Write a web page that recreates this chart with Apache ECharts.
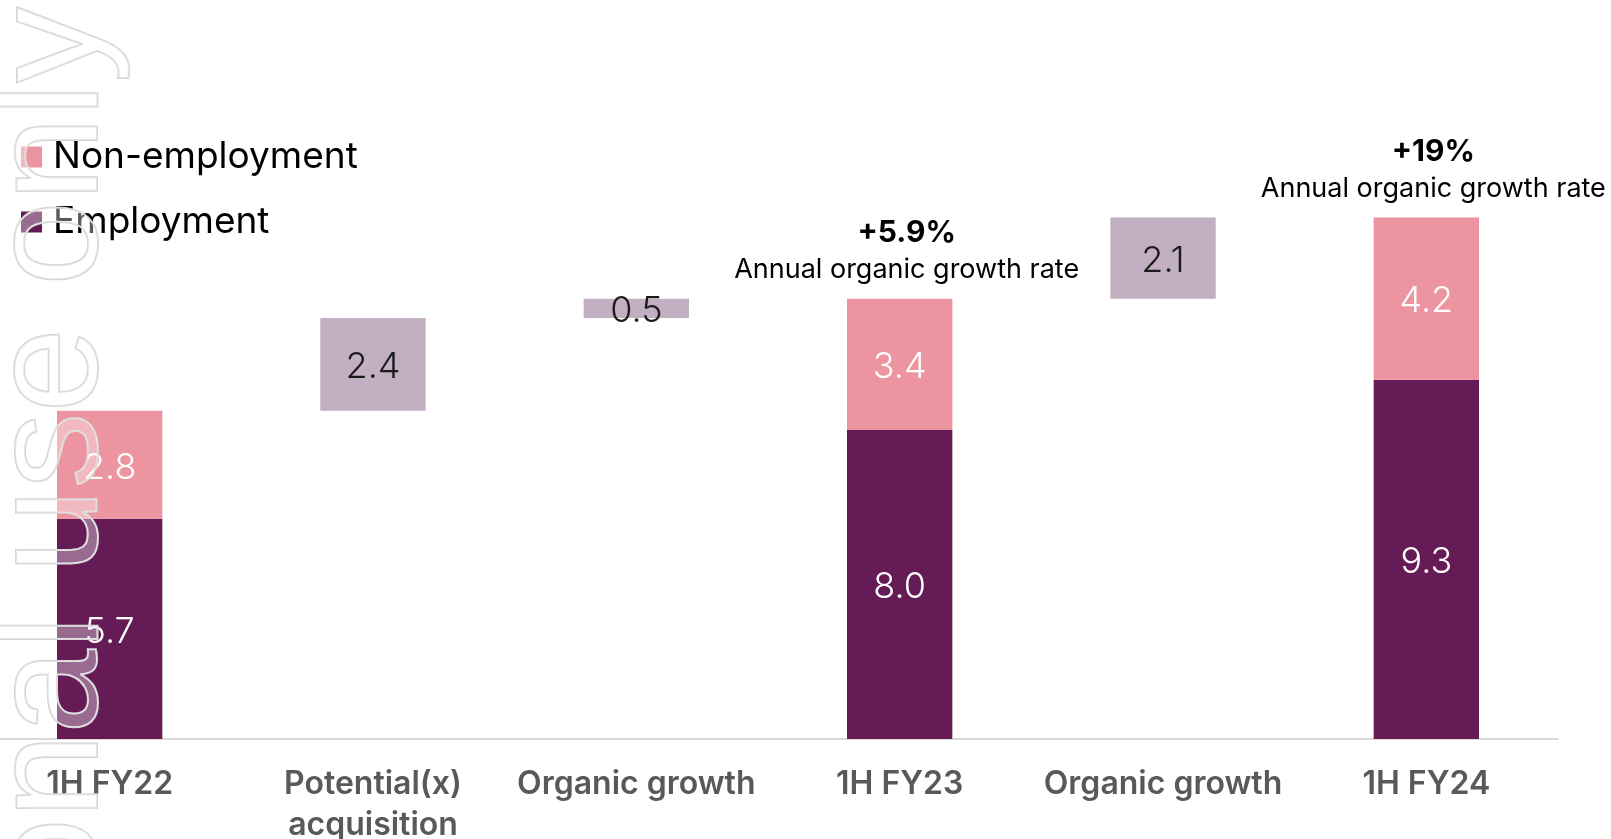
<!DOCTYPE html>
<html>
<head>
<meta charset="utf-8">
<script src="https://cdn.jsdelivr.net/npm/echarts@6/dist/echarts.min.js"></script>
<style>
  html, body { margin: 0; padding: 0; background: #fff; }
  #chart { width: 1611px; height: 839px; }
</style>
</head>
<body>
<div id="chart"></div>
<script>
// categories along the x axis
const categories = ['1H FY22', 'Potential(x)\nacquisition', 'Organic growth', '1H FY23', 'Organic growth', '1H FY24']
// stacked totals ('-' where the column is a bridge step)
const employment = [5.7, '-', '-', 8.0, '-', 9.3]
const nonEmployment = [2.8, '-', '-', 3.4, '-', 4.2]
// bridge steps between the totals
const steps = ['-', 2.4, 0.5, '-', 2.1, '-']
// growth notes above the total columns
const growthRates = ['', '', '', '+5.9%', '', '+19%']

// invisible base under each bridge step = running total so far
const base = []
let running = 0
categories.forEach((c, i) => {
  if (steps[i] === '-') {
    running = (employment[i] || 0) + (nonEmployment[i] || 0)
    base.push('-')
  } else {
    base.push(+running.toFixed(1))
    running += steps[i]
  }
})
const growthAnchor = growthRates.map(g => (g ? 0 : '-'))

const chart = echarts.init(document.getElementById('chart'))

const insideLabel = color => ({
  show: true,
  position: 'inside',
  offset: [0, 3],
  color: color,
  fontFamily: 'Inter',
  fontWeight: 300,
  fontSize: 36,
  formatter: p => Number(p.value).toFixed(1)
})

chart.setOption({
  animation: false,
  backgroundColor: '#fff',
  legend: {
    data: ['Non-employment', 'Employment'],
    orient: 'vertical',
    left: 21,
    top: 137,
    padding: 0,
    icon: 'rect',
    itemWidth: 21,
    itemHeight: 21,
    itemGap: 25,
    textStyle: { fontFamily: 'Inter', fontSize: 37, color: '#000', lineHeight: 40, padding: [0, 0, 0, 6] }
  },
  grid: { left: -22, right: 53, top: 63, bottom: 100, outerBoundsMode: 'none' },
  xAxis: {
    type: 'category',
    data: categories,
    axisLine: { lineStyle: { color: '#d9d9d9', width: 2 } },
    axisTick: { show: false },
    axisLabel: {
      interval: 0,
      margin: 25,
      fontFamily: 'Inter',
      fontWeight: 600,
      fontSize: 32,
      lineHeight: 41,
      color: '#595959'
    }
  },
  yAxis: { type: 'value', min: 0, max: 17.5, show: false },
  series: [
    {
      name: 'Employment', type: 'bar', stack: 'total', barWidth: '40%',
      data: employment,
      itemStyle: { color: '#651C56' },
      label: insideLabel('#fff')
    },
    {
      name: 'Non-employment', type: 'bar', stack: 'total',
      data: nonEmployment,
      itemStyle: { color: '#EC949F' },
      label: insideLabel('#fff')
    },
    {
      name: 'base', type: 'bar', stack: 'total',
      data: base,
      itemStyle: { color: 'transparent' },
      silent: true
    },
    {
      name: 'Step', type: 'bar', stack: 'total',
      data: steps,
      itemStyle: { color: '#C2AFC2' },
      label: insideLabel('#1a1a1a')
    },
    {
      name: 'growth', type: 'bar', stack: 'total',
      data: growthAnchor,
      itemStyle: { color: 'transparent' },
      label: {
        show: true,
        position: 'top',
        distance: 10,
        offset: [7, 0],
        formatter: p => '{b|' + growthRates[p.dataIndex] + '}\n{n|Annual organic growth rate}',
        rich: {
          b: { fontFamily: 'Inter', fontWeight: 700, fontSize: 30, color: '#000', lineHeight: 37, align: 'center' },
          n: { fontFamily: 'Inter', fontWeight: 400, fontSize: 27, color: '#000', lineHeight: 37, align: 'center' }
        }
      }
    }
  ],
  graphic: [{
    type: 'text',
    x: 131,
    y: 7,
    rotation: Math.PI / 2,
    z: 100,
    silent: true,
    style: {
      text: 'For personal use only',
      font: '152px "Liberation Sans"',
      align: 'right',
      verticalAlign: 'bottom',
      fill: 'rgba(255,255,255,0.35)',
      stroke: '#d6d6d6',
      lineWidth: 2
    }
  }]
})
</script>
</body>
</html>
